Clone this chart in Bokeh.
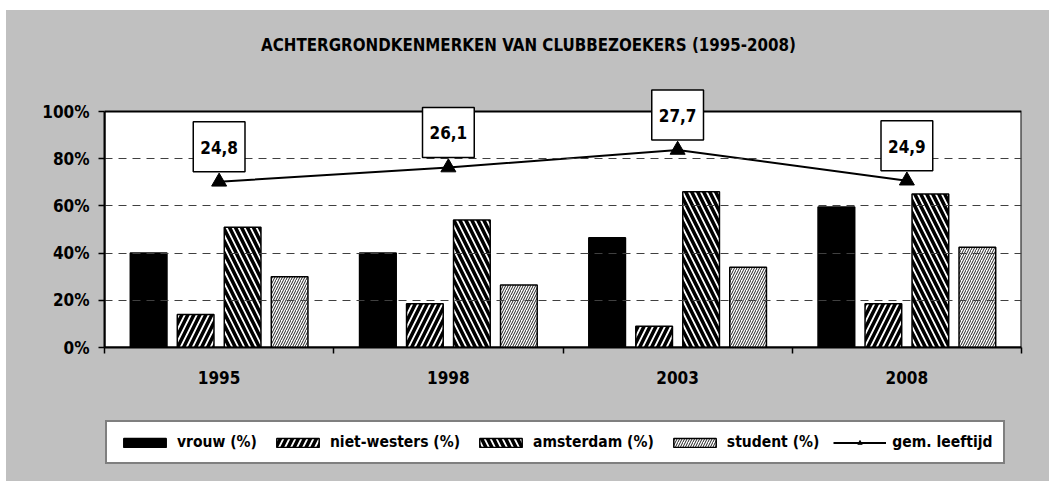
from bokeh.plotting import figure
from bokeh.layouts import column
from bokeh.models import (Range1d, FixedTicker, PrintfTickFormatter, Legend,
                          LegendItem, Label, ColumnDataSource, BoxAnnotation)
from bokeh.transform import dodge
from bokeh.embed import file_html
from bokeh.resources import INLINE

# ---- data ----
years = ["1995", "1998", "2003", "2008"]
vrouw = [40, 40, 46.5, 59.5]
niet_westers = [14, 18.5, 9, 18.5]
amsterdam = [51, 54, 66, 65]
student = [30, 26.5, 34, 42.5]
leeftijd = [24.8, 26.1, 27.7, 24.9]
y_ticks = [0, 20, 40, 60, 80, 100]
series_labels = ["vrouw (%)", "niet-westers (%)", "amsterdam (%)", "student (%)", "gem. leeftijd"]
title_text = "ACHTERGRONDKENMERKEN VAN CLUBBEZOEKERS (1995-2008)"

FONT = "DejaVu Sans Condensed"
GRAY = "#C0C0C0"

# layout helpers: frame reaches the canvas top; area above 100% is painted gray
Y_TOP = 142.8            # top of the drawing area in % units
AGE_LO, AGE_PER_PCT = 9.7, 0.215   # hidden secondary scale for the age line
W = 1043
BL, BR = 98, 28

# bar styles (shared by chart and legend)
styles = [
    dict(fill_color="black", line_color="black", line_width=1.5),
    dict(fill_color="white", line_color="black", line_width=1.5,
         hatch_pattern="right_diagonal_line", hatch_color="black", hatch_scale=12, hatch_weight=3.5),
    dict(fill_color="black", line_color="black", line_width=1.5,
         hatch_pattern="left_diagonal_line", hatch_color="white", hatch_scale=12, hatch_weight=1.8),
    dict(fill_color="white", line_color="black", line_width=1.5,
         hatch_pattern="right_diagonal_line", hatch_color="#222222", hatch_scale=5, hatch_weight=1),
]
line_style = dict(line_color="black", line_width=2)
marker_style = dict(marker="triangle", size=15, fill_color="black", line_color="black")

xpos = [i + 0.5 for i in range(len(years))]
src = ColumnDataSource(dict(x=xpos, vrouw=vrouw, nw=niet_westers, ams=amsterdam,
                            stu=student, age=leeftijd))
cols = ["vrouw", "nw", "ams", "stu"]

p = figure(width=W, height=398, x_range=Range1d(0, len(years)), y_range=Range1d(0, Y_TOP),
           output_backend="svg", toolbar_location=None,
           min_border_left=BL, min_border_right=BR, min_border_top=0, min_border_bottom=61,
           styles={"background-color": GRAY})
p.extra_y_ranges = {"age": Range1d(AGE_LO, AGE_LO + Y_TOP * AGE_PER_PCT)}

p.border_fill_color = GRAY
p.background_fill_color = GRAY
p.outline_line_color = None

# white plot box with black border (0..100 %)
p.add_layout(BoxAnnotation(bottom=0, top=100, fill_color="white", fill_alpha=1,
                           line_color="black", line_width=2, line_alpha=1, level="underlay"))

# grid
p.xgrid.visible = False
p.ygrid.ticker = FixedTicker(ticks=y_ticks[1:-1])
p.ygrid.grid_line_color = "#404040"
p.ygrid.grid_line_dash = "8 6"
p.ygrid.grid_line_width = 1.2
p.ygrid.level = "glyph"

# axes
xa = p.xaxis[0]
xa.ticker = FixedTicker(ticks=xpos, minor_ticks=list(range(len(years) + 1)))
xa.major_label_overrides = {xv: y for xv, y in zip(xpos, years)}
xa.major_tick_out = 0
xa.major_tick_in = 0
xa.minor_tick_out = 6
xa.minor_tick_in = 0
xa.minor_tick_line_color = "black"
xa.minor_tick_line_width = 1.5
xa.axis_line_color = "black"
xa.axis_line_width = 2
xa.major_label_standoff = 17
xa.major_label_text_font = FONT
xa.major_label_text_font_style = "bold"
xa.major_label_text_font_size = "17px"
xa.major_label_text_color = "black"

ya = p.yaxis[0]
ya.ticker = FixedTicker(ticks=y_ticks)
ya.bounds = (0, 100)
ya.formatter = PrintfTickFormatter(format="%d%%")
ya.major_tick_out = 6
ya.major_tick_in = 0
ya.major_tick_line_color = "black"
ya.major_tick_line_width = 1.5
ya.minor_tick_line_color = None
ya.axis_line_color = "black"
ya.axis_line_width = 2
ya.major_label_standoff = 9
ya.major_label_text_font = FONT
ya.major_label_text_font_style = "bold"
ya.major_label_text_font_size = "17px"
ya.major_label_text_color = "black"

# bars
w = 0.16
offsets = [-0.3075, -0.1025, 0.1025, 0.3075]
for off, c, st in zip(offsets, cols, styles):
    p.vbar(x=dodge("x", off), top=c, width=w, source=src, **st)

# line on secondary scale
p.line(x="x", y="age", source=src, y_range_name="age", **line_style)
p.scatter(x="x", y="age", source=src, y_range_name="age", **marker_style)

for xv, a in zip(xpos, leeftijd):
    p.add_layout(Label(x=xv, y=a, y_range_name="age", y_offset=35,
                       text=f"{a:.1f}".replace(".", ","),
                       text_font=FONT, text_font_style="bold", text_font_size="17px",
                       text_align="center", text_baseline="middle", text_color="black",
                       background_fill_color="white", border_line_color="black",
                       border_line_width=1.5, padding=dict(left=7, right=7, top=19, bottom=18)))

# title (inside the gray upper part of the frame)
p.add_layout(Label(x=424, y=128, x_units="screen", text=title_text,
                   text_font=FONT, text_font_style="bold", text_font_size="16.8px",
                   text_align="center", text_baseline="middle", text_color="black"))

# ---- legend strip (separate figure; its renderers share the data but are hidden) ----
lg = figure(width=W, height=73, x_range=Range1d(0, len(years)), y_range=Range1d(1000, 1001),
            output_backend="svg", toolbar_location=None,
            min_border_left=BL, min_border_right=BR, min_border_top=0, min_border_bottom=0,
            x_axis_type=None, y_axis_type=None, styles={"background-color": GRAY})
lg.grid.visible = False
lg.background_fill_color = GRAY
lg.border_fill_color = GRAY
lg.outline_line_color = None

items = []
for lab, c, off, st in zip(series_labels[:4], cols, offsets, styles):
    r = lg.vbar(x=dodge("x", off), top=c, width=w, source=src, visible=False, **st)
    items.append(LegendItem(label=lab, renderers=[r]))
rl = lg.line(x="x", y="age", source=src, visible=False, **line_style)
rm = lg.scatter(x="x", y="age", source=src, visible=False, **marker_style)
items.append(LegendItem(label=series_labels[4], renderers=[rl, rm]))

legend = Legend(items=items, orientation="horizontal", location=(1, 17))
legend.glyph_width = 53
legend.glyph_height = 11
legend.label_standoff = 6
legend.spacing = 14
legend.padding = 11
legend.margin = 0
legend.border_line_color = "black"
legend.border_line_width = 2
legend.background_fill_color = "white"
legend.background_fill_alpha = 1
legend.label_text_font = FONT
legend.label_text_font_style = "bold"
legend.label_text_font_size = "15.5px"
legend.label_text_color = "black"
lg.add_layout(legend)

layout = column(p, lg, spacing=0, margin=(10, 0, 0, 6))
open("out.html", "w").write(file_html(layout, INLINE))
